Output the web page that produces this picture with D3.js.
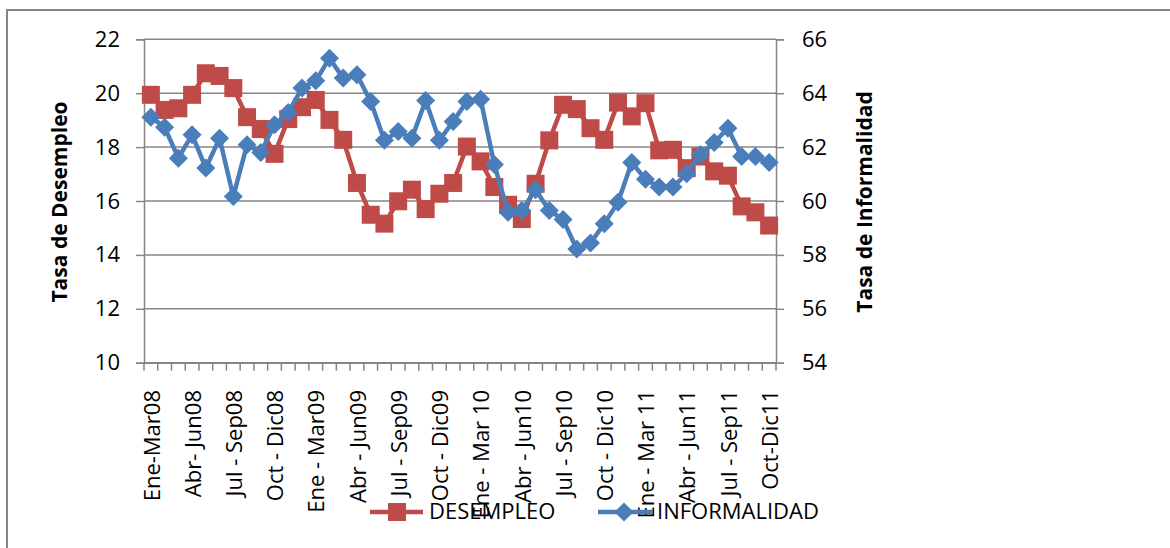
<!DOCTYPE html>
<html><head><meta charset="utf-8">
<script src="https://cdn.jsdelivr.net/npm/d3@7/dist/d3.min.js"></script>
<style>body{margin:0;background:#fff}svg{display:block}text{font-family:"Open Sans",sans-serif}</style>
</head><body><svg id="c" width="1170" height="548"></svg>
<script>
const categories = ["Ene-Mar08","Feb-Abr08","Mar-May08","Abr- Jun08","May-Jul08","Jun-Ago08","Jul - Sep08","Ago-Oct08","Sep-Nov08","Oct - Dic08","Nov08-Ene09","Dic08-Feb09","Ene - Mar09","Feb-Abr09","Mar-May09","Abr - Jun09","May-Jul09","Jun-Ago09","Jul - Sep09","Ago-Oct09","Sep-Nov09","Oct - Dic09","Nov09-Ene10","Dic09-Feb10","Ene - Mar 10","Feb-Abr10","Mar-May10","Abr - Jun10","May-Jul10","Jun-Ago10","Jul - Sep10","Ago-Oct10","Sep-Nov10","Oct - Dic10","Nov10-Ene11","Dic10-Feb11","Ene - Mar 11","Feb-Abr11","Mar-May11","Abr - Jun11","May-Jul11","Jun-Ago11","Jul - Sep11","Ago-Oct11","Sep-Nov11","Oct-Dic11"];
const tickLabels = ["Ene-Mar08","Abr- Jun08","Jul - Sep08","Oct - Dic08","Ene - Mar09","Abr - Jun09","Jul - Sep09","Oct - Dic09","Ene - Mar 10","Abr - Jun10","Jul - Sep10","Oct - Dic10","Ene - Mar 11","Abr - Jun11","Jul - Sep11","Oct-Dic11"];
const desempleo = [19.94,19.38,19.44,19.94,20.74,20.64,20.19,19.11,18.67,17.75,19.04,19.48,19.75,19.01,18.27,16.67,15.49,15.16,15.99,16.42,15.70,16.27,16.67,18.02,17.47,16.52,15.86,15.33,16.64,18.25,19.57,19.41,18.70,18.27,19.65,19.14,19.63,17.88,17.90,17.22,17.65,17.10,16.94,15.80,15.58,15.09];
const informalidad = [63.11,62.74,61.59,62.46,61.22,62.33,60.17,62.09,61.80,62.83,63.28,64.19,64.46,65.30,64.56,64.68,63.69,62.25,62.58,62.33,63.73,62.25,62.95,63.69,63.78,61.35,59.58,59.65,60.42,59.65,59.31,58.22,58.44,59.16,59.95,61.43,60.81,60.52,60.52,61.01,61.72,62.17,62.70,61.65,61.65,61.43];
const leftTicks = [10,12,14,16,18,20,22];
const rightTicks = [54,56,58,60,62,64,66];
const seriesNames = ["DESEMPLEO","INFORMALIDAD"];

const svg = d3.select("#c");
const L=144, R=776, T=39.3, B=362.7;
const grey="#868686", red="#BE4B48", blue="#4A7EBB";
const fs=22;

svg.append("rect").attr("x",7).attr("y",10).attr("width",1180).attr("height",560)
  .attr("fill","none").attr("stroke",grey).attr("stroke-width",2);

const x = d3.scaleBand().domain(categories).range([L,R]).padding(0);
const yL = d3.scaleLinear().domain([10,22]).range([B,T]);
const yR = d3.scaleLinear().domain([54,66]).range([B,T]);
const cx = d => x(d)+x.bandwidth()/2;

// gridlines
svg.append("g").selectAll("line").data(leftTicks).join("line")
  .attr("x1",L).attr("x2",R).attr("y1",d=>yL(d)).attr("y2",d=>yL(d))
  .attr("stroke",grey).attr("stroke-width",1.5);

// left axis
const gl = svg.append("g").attr("transform",`translate(${L},0)`)
  .call(d3.axisLeft(yL).tickValues(leftTicks).tickSize(8).tickPadding(16));
// right axis
const gr = svg.append("g").attr("transform",`translate(${R},0)`)
  .call(d3.axisRight(yR).tickValues(rightTicks).tickSize(8).tickPadding(18));
// bottom axis
const gb = svg.append("g").attr("transform",`translate(0,${B})`)
  .call(d3.axisBottom(x).tickValues([]).tickSizeOuter(0));
svg.append("g").selectAll("line").data(categories.concat(["_end"])).join("line")
  .attr("x1",(d,i)=>L+i*x.bandwidth()).attr("x2",(d,i)=>L+i*x.bandwidth())
  .attr("y1",B).attr("y2",B+8).attr("stroke",grey).attr("stroke-width",1.5);

[gl,gr,gb].forEach(g=>{
  g.selectAll("path").attr("stroke",grey).attr("stroke-width",1.5);
  g.selectAll("line").attr("stroke",grey).attr("stroke-width",1.5);
  g.selectAll("text").attr("font-size",fs).attr("fill","#000").attr("font-family","'Open Sans',sans-serif");
});

// x labels
svg.append("g").selectAll("text").data(tickLabels).join("text")
  .attr("transform",d=>{const c=categories.find(k=>k===d);return `translate(${cx(c)+1},390) rotate(-90)`;})
  .attr("text-anchor","end").attr("dy","0.35em").attr("font-size",fs).text(d=>d);

// axis titles
svg.append("text").attr("transform","translate(60,202) rotate(-90)")
  .attr("text-anchor","middle").attr("dy","0.35em").attr("font-size",21).attr("font-weight","bold").text("Tasa de Desempleo");
svg.append("text").attr("transform","translate(865,202) rotate(-90)")
  .attr("text-anchor","middle").attr("dy","0.35em").attr("font-size",21).attr("font-weight","bold").text("Tasa de Informalidad");

// series
const lineL = d3.line().x((d,i)=>cx(categories[i])).y(d=>yL(d));
const lineR = d3.line().x((d,i)=>cx(categories[i])).y(d=>yR(d));
svg.append("path").datum(desempleo).attr("d",lineL).attr("fill","none").attr("stroke",red).attr("stroke-width",4.5).attr("stroke-linejoin","round");
svg.append("g").selectAll("rect").data(desempleo).join("rect")
  .attr("x",(d,i)=>cx(categories[i])-9).attr("y",d=>yL(d)-9).attr("width",18).attr("height",18).attr("fill",red);
const diamond = d3.symbol().type(d3.symbolDiamond2 || d3.symbolDiamond).size(170);
svg.append("path").datum(informalidad).attr("d",lineR).attr("fill","none").attr("stroke",blue).attr("stroke-width",4.5).attr("stroke-linejoin","round");
const diamondPath = "M0,-9.5L9.5,0L0,9.5L-9.5,0Z";
svg.append("g").selectAll("path").data(informalidad).join("path")
  .attr("transform",(d,i)=>`translate(${cx(categories[i])},${yR(d)})`).attr("d",diamondPath).attr("fill",blue);

// legend
const lg = svg.append("g");
lg.append("line").attr("x1",370).attr("x2",423).attr("y1",512).attr("y2",512).attr("stroke",red).attr("stroke-width",4.5);
lg.append("rect").attr("x",388).attr("y",503).attr("width",18).attr("height",18).attr("fill",red);
lg.append("text").attr("x",429).attr("y",519).attr("font-size",fs).text(seriesNames[0]);
lg.append("line").attr("x1",598).attr("x2",652).attr("y1",512).attr("y2",512).attr("stroke",blue).attr("stroke-width",4.5);
lg.append("path").attr("transform","translate(624,512)").attr("d",diamondPath).attr("fill",blue);
lg.append("text").attr("x",657).attr("y",519).attr("font-size",fs).text(seriesNames[1]);
</script></body></html>
